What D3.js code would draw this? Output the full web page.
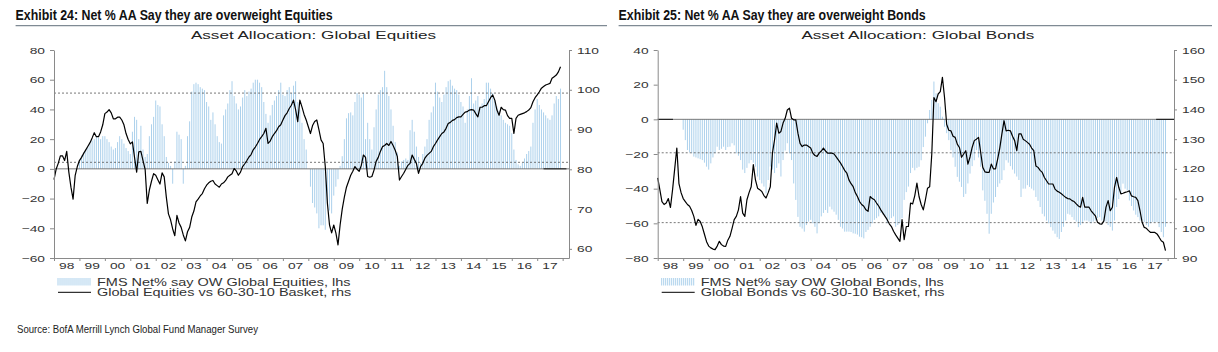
<!DOCTYPE html>
<html>
<head>
<meta charset="utf-8">
<script src="https://cdn.jsdelivr.net/npm/d3@7"></script>
<style>
    body { margin: 0; background: #fff; }
    svg text { font-family: "Liberation Sans", Arial, sans-serif; }
    .title { font-family: "Liberation Sans Narrow", "Arial Narrow", "Liberation Sans", sans-serif !important; font-weight: bold; font-size: 14px; fill: #111; }
    .source { font-family: "Liberation Sans Narrow", "Arial Narrow", "Liberation Sans", sans-serif !important; font-size: 11px; fill: #222; }
</style>
</head>
<body>
<svg id="chart" width="1218" height="352"></svg>
<script>
// x axis labels, one per year
const yearLabels = ["98", "99", "00", "01", "02", "03", "04", "05", "06", "07",
    "08", "09", "10", "11", "12", "13", "14", "15", "16", "17"];
const firstYear = 1998;

// Exhibit 24: FMS net % overweight global equities (lhs), monthly from Jan 1999
const eqBarStart = 1999;
const eqBars = [
    6, 9, 11, 13, 15, 17, 19, 20, 22, 21, 20, 22,
    22, 20, 18, 15, 13, 14, 18, 22, 20, 17, 14, 12,
    10, 25, 35, 33, 20, 29, 13, 8, 10, 22, 30, 35,
    46, 43, 42, 30, 22, 8, 4, 2, -10, 5, 25, 23,
    20, -10, 2, 22, 32, 52, 57, 58, 57, 55, 54, 53,
    45, 42, 33, 38, 30, 22, 18, 17, 36, 40, 44, 53,
    59, 49, 44, 40, 42, 48, 53, 49, 52, 54, 58, 60,
    60, 58, 55, 45, 37, 31, 36, 43, 46, 49, 53, 58,
    50, 49, 53, 55, 51, 56, 59, 45, 40, 31, 20, 13,
    0, -12, -23, -26, -30, -40, -38, -38, -41, -25, -28, -30,
    -18, -12, -7, 2, 8.5, 20, 34, 37.5, 38, 36, 45, 51,
    50, 48, 51, 20, 31, 20, 13, 28, 40, 50, 53, 55,
    66, 55, 49, 40, 29, 18, 11, 2, 5, 6, 7, 6,
    26, 33, 25, 15, 8, 4, 10, 15, 20, 33, 38, 42,
    58, 52, 48, 45, 50, 55, 59, 60, 56, 54, 53, 50,
    45, 42, 31, 40, 49, 61, 44, 46, 49, 42, 44, 47,
    58, 58, 54, 51, 46, 42, 39, 36, 33, 31, 30, 29,
    24, 13, 6, 3, 2, 4, 7, 10, 12, 15, 31, 40,
    47, 43, 40, 38, 36, 34, 33, 36, 44, 49, 47, 54
];
// Global equities vs 60-30-10 basket (rhs), monthly from Jan 1998
const eqLine = [
    77.4, 80, 81.5, 83.4, 83.4, 82.2, 84.5, 79.3, 75.5, 72.5, 78.5, 80.7,
    82.2, 83, 84, 84.9, 85.8, 86.7, 87.9, 89.2, 88.2, 88.2, 89.4, 91.2,
    94, 94.4, 95, 94.2, 92.7, 92.7, 93.1, 93.1, 92.4, 91.2, 89, 87.5,
    86.4, 86.9, 83, 79.3, 84.4, 84.5, 82.2, 80, 71.4, 74.8, 77, 78.9,
    78.5, 77.4, 76.3, 79.1, 78.1, 73, 68.8, 67.3, 65, 63.3, 68.4, 66.5,
    65.4, 63.5, 62, 64.3, 65.4, 68, 69.5, 71.8, 72.5, 73.3, 73.9, 75.1,
    76, 76.6, 77, 77.2, 76.3, 75.9, 75.5, 76.3, 76.6, 77.2, 78.1, 78.5,
    78.9, 80.2, 79.6, 78.5, 79.3, 80.7, 81.4, 82.2, 83.1, 83.7, 84.9, 85.6,
    86.5, 87.5, 88.2, 89, 90.3, 86.5, 87.1, 88.2, 89, 89.7, 90.7, 91.2,
    92.4, 93.5, 94.2, 95.3, 96.1, 97.4, 95, 92, 97.4, 95.7, 93.8, 92.4,
    90.7, 89, 91, 92, 92.4, 90, 87.4, 86.5, 80.7, 71.5, 66, 64,
    66, 64, 61, 66, 70, 73, 75.5, 77, 78.5, 79.5, 80.7, 80,
    79.5, 81, 83.6, 83, 78.2, 78, 78.2, 79.8, 82, 83, 84.5, 85.7,
    86, 86.5, 86, 87, 86, 84.8, 83.2, 77.3, 78.2, 79, 80, 81,
    81.5, 83.6, 82.5, 81.5, 79, 80.7, 81.5, 82.8, 83.5, 84, 84.5, 85.7,
    86.5, 87.4, 88.2, 89, 89.4, 90.3, 91.5, 91.8, 92.3, 92.5, 93, 93.2,
    93.2, 93.8, 94.4, 94.5, 94.9, 95, 94.9, 94, 93.2, 95.6, 95.6, 96,
    96, 97, 98, 98.7, 97.4, 94.9, 93.6, 95.6, 95, 94.9, 93.5, 92.8,
    92.8, 89, 92.8, 93.6, 93.8, 94, 94.2, 94.5, 94.9, 95.5, 97, 98,
    98.7, 99.5, 100.4, 100.8, 101.2, 101.4, 101.6, 102.9, 103.3, 103.7, 104.5, 105.8
];
const eqRefLines = [51, 4.4];
const eqZeroSegs = [[2017.25, 2018.15]];

// Exhibit 25: FMS net % overweight global bonds (lhs), monthly from Jan 1999
const bdBarStart = 1999;
const bdBars = [
    -6, -12, -17.7, -19, -19.6, -21.5, -22, -22.5, -23, -23.5, -25, -27.3,
    -29, -25.4, -22, -19.6, -15.8, -17.7, -17, -15.8, -17.7, -16, -15.8, -13.8,
    -15, -19.6, -21, -23.5, -29, -31, -28, -25.4, -23.5, -25, -27.3, -33,
    -35, -37, -38.8, -42.7, -35, -27.3, -29, -31, -28, -25.4, -33, -23.5,
    -18, -13.8, -19.6, -23.5, -37, -46.5, -56.3, -62, -63, -64.8, -61, -59,
    -58, -60, -62, -65.8, -60, -56, -54, -52.3, -54, -50.4, -52, -53.3,
    -55, -58, -62, -63, -64.8, -64.8, -64.8, -65, -65.8, -66, -66.5, -67.7,
    -68, -68.7, -65, -63.8, -62, -60, -58, -57, -56, -54, -55, -56,
    -60, -58, -57, -56, -62, -61, -60, -57, -46.5, -42, -38.8, -31,
    -28, -29.4, -28, -27.4, -23.6, -16, -10, -2.3, 5.4, 11.2, 21.8, 15,
    9.3, 7.3, 1.5, -4.3, -8, -12, -17.8, -22, -27.4, -33.2, -36, -39,
    -44.8, -43, -37, -31.3, -27, -23.6, -17.8, -22, -27.4, -41, -47, -54.5,
    -66, -54.5, -48, -44.8, -39, -37, -35, -29.4, -23.6, -25, -27, -29,
    -31.3, -33, -35, -44.8, -40, -40, -38, -39, -40, -41, -44.8, -47,
    -50.6, -54.5, -56, -58.4, -60, -62.2, -64.2, -66, -68, -69, -65, -62,
    -58.4, -54.5, -55, -56.4, -58, -59, -62.2, -61, -60, -58.4, -58.4, -59,
    -60, -59, -58.4, -57, -56.4, -58.4, -59, -59, -61, -62, -64.2, -58.4,
    -50.6, -46, -43, -37.1, -40, -41, -46.8, -50, -52.6, -55, -56.4, -58.4,
    -58.4, -59.3, -61, -62, -60, -59.3, -59.3, -59.3, -62.2, -65, -68, -62
];
// Global bonds vs 60-30-10 basket (rhs), monthly from Jan 1998
const bdLine = [
    117, 113, 109, 108, 108.5, 110, 107, 113, 120, 127, 115, 112,
    110, 109, 108, 107.4, 106, 104, 101, 103, 102.3, 100.5, 98, 95.5,
    94, 93.4, 93, 92.8, 94, 95.6, 94.5, 94, 93.9, 96, 97.3, 100,
    102.9, 104, 106.2, 110.7, 105.1, 104, 109.6, 112, 114, 121.4, 116.3, 113.5,
    113, 112.4, 111, 110.2, 112, 114, 125.3, 129.8, 135.4, 132, 132.6, 135.4,
    137, 139.8, 140.4, 137, 136.5, 136.5, 132, 128.6, 127.5, 128, 128, 127.5,
    127, 125.3, 124.5, 124.2, 125.3, 126, 127, 126, 125.3, 125.3, 125.3, 125,
    124, 123, 122, 120.8, 119.5, 118.6, 116.3, 115, 114, 112, 110.7, 109,
    108, 107.4, 106.2, 105.7, 110.7, 110, 109.6, 108.5, 107.5, 106.2, 105.1, 104,
    102.9, 101.5, 100.6, 99, 97.8, 96.7, 95.6, 102.9, 96.2, 100.6, 100.6, 108.5,
    108.2, 111, 115.2, 110.7, 108, 106.2, 109.6, 113.5, 114, 125, 144, 142.6,
    145.2, 146, 150.8, 144, 135, 133, 132.8, 131, 130.6, 128.3, 127.2, 123.9,
    125, 126.1, 121.6, 124, 127.2, 129.5, 130, 130.6, 125.6, 120.5, 119, 118.8,
    118.8, 121.6, 120, 120, 123.3, 127, 131.8, 136.2, 132.8, 133, 132.8, 131,
    129.5, 126.1, 131.8, 131.8, 130, 129.5, 128.9, 128.3, 127, 126.1, 121, 120.5,
    119.5, 118.8, 117.1, 116, 114.9, 114.9, 114.9, 113.2, 112.5, 112.1, 111.6, 111,
    110.4, 110, 109.9, 109.3, 109, 108.2, 107.5, 107.1, 110.4, 107.1, 107.1, 107.1,
    105.9, 105, 104.2, 102, 101.5, 101.4, 102.5, 107.1, 109.3, 105.9, 107.1, 113.8,
    117.1, 113.8, 111.6, 111.8, 112.1, 112.3, 112.6, 110.9, 110.6, 110.4, 109.3, 105.9,
    102, 100.3, 100, 99.2, 98.6, 98.6, 98.6, 98.1, 97, 95.8, 95.3, 92.5
];
const bdRefLines = [-19.3, -59.6];
const bdZeroSegs = [[1998, 1998.6], [2017.55, 2018.25]];

const eqLhsTicks = [-60, -40, -20, 0, 20, 40, 60, 80];
const eqRhsTicks = [60, 70, 80, 90, 100, 110];
const bdLhsTicks = [-80, -60, -40, -20, 0, 20, 40];
const bdRhsTicks = [90, 100, 110, 120, 130, 140, 150, 160];

const BAR_COLOR = "#acd1ec";
const AXIS_COLOR = "#8a8a8a";
const TEXT_COLOR = "#333";
const STRETCH = "scale(1.45,1)";   // the chart text in the picture is stretched sideways
const plotTop = 50, plotBottom = 258;
const xDomain = [1998, 2018.25];

const svg = d3.select("#chart");

function drawPanel(p)
{
    const g = svg.append("g");

    const x = d3.scaleLinear().domain(xDomain).range([p.left, p.right]);
    const yL = d3.scaleLinear().domain(p.lhsDomain).range([plotBottom, plotTop]);
    const yR = d3.scaleLinear().domain(p.rhsDomain).range([plotBottom, plotTop]);

    // exhibit title and grey rule under it
    g.append("text")
        .attr("class", "title")
        .attr("x", p.titleX)
        .attr("y", 20)
        .attr("textLength", p.titleLen)
        .attr("lengthAdjust", "spacingAndGlyphs")
        .text(p.title);
    g.append("line")
        .attr("x1", p.titleX).attr("x2", p.ruleEnd)
        .attr("y1", 25.7).attr("y2", 25.7)
        .attr("stroke", "#7f8a94")
        .attr("stroke-width", 1.2);

    // chart heading
    g.append("text")
        .attr("transform", `translate(${(p.left + p.right) / 2 + 2},38.5) ${STRETCH}`)
        .attr("text-anchor", "middle")
        .style("font-size", "11.8px")
        .attr("fill", "#222")
        .text(p.subtitle);

    // survey bars, one thin line per month
    g.append("g")
        .selectAll("line")
        .data(p.bars)
        .join("line")
        .attr("x1", (d, i) => x(p.barStart + i / 12))
        .attr("x2", (d, i) => x(p.barStart + i / 12))
        .attr("y1", yL(0))
        .attr("y2", d => yL(d))
        .attr("stroke", BAR_COLOR)
        .attr("stroke-width", 1);

    // zero line + dashed reference lines
    g.append("line")
        .attr("x1", p.left).attr("x2", p.right)
        .attr("y1", yL(0)).attr("y2", yL(0))
        .attr("stroke", "#6a6a6a").attr("stroke-width", 0.9);
    g.selectAll(".zseg")
        .data(p.zeroSegs)
        .join("line")
        .attr("x1", d => x(d[0])).attr("x2", d => x(d[1]))
        .attr("y1", yL(0)).attr("y2", yL(0))
        .attr("stroke", "#111").attr("stroke-width", 1);
    g.selectAll(".ref")
        .data(p.refLines)
        .join("line")
        .attr("x1", p.left).attr("x2", p.right)
        .attr("y1", d => yL(d)).attr("y2", d => yL(d))
        .attr("stroke", "#555")
        .attr("stroke-width", 0.8)
        .attr("stroke-dasharray", "2,2");

    // relative performance line
    g.append("path")
        .datum(p.line)
        .attr("d", d3.line()
            .x((d, i) => x(firstYear + i / 12))
            .y(d => yR(d)))
        .attr("fill", "none")
        .attr("stroke", "#000")
        .attr("stroke-width", 1.2)
        .attr("stroke-linejoin", "round");

    // axes
    function styleAxis(a) {
        a.attr("font-family", null).attr("font-size", null);
        a.select(".domain").attr("stroke", AXIS_COLOR);
        a.selectAll(".tick line").attr("stroke", AXIS_COLOR);
        a.selectAll("text").attr("fill", TEXT_COLOR).style("font-size", "9.5px");
    }

    g.append("g")
        .attr("transform", `translate(${p.left},0)`)
        .call(d3.axisLeft(yL).tickValues(p.lhsTicks).tickSize(4).tickSizeOuter(0))
        .call(styleAxis)
        .call(a => a.selectAll("text").attr("x", 0).attr("transform", `translate(-9,0) ${STRETCH}`));

    g.append("g")
        .attr("transform", `translate(${p.right},0)`)
        .call(d3.axisRight(yR).tickValues(p.rhsTicks).tickSize(3).tickSizeOuter(0))
        .call(styleAxis)
        .call(a => a.selectAll("text").attr("x", 0).attr("transform", `translate(8,0) ${STRETCH}`));

    g.append("g")
        .attr("transform", `translate(0,${plotBottom})`)
        .call(d3.axisBottom(x)
            .tickValues(d3.range(firstYear, firstYear + yearLabels.length + 1))
            .tickSize(3).tickSizeOuter(0).tickFormat(""))
        .call(styleAxis);

    g.selectAll(".yr")
        .data(yearLabels)
        .join("text")
        .attr("transform", (d, i) => `translate(${x(firstYear + i + 0.5)},269) ${STRETCH}`)
        .attr("text-anchor", "middle")
        .attr("fill", TEXT_COLOR)
        .style("font-size", "9.5px")
        .text(d => d);

    // legend
    const lx = p.left + 4;
    g.append("g")
        .selectAll("line")
        .data(d3.range(0, 33, 2))
        .join("line")
        .attr("x1", d => lx + d).attr("x2", d => lx + d)
        .attr("y1", 278).attr("y2", 285.5)
        .attr("stroke", BAR_COLOR);
    g.append("text")
        .attr("transform", `translate(${p.left + 43},285.5) ${STRETCH}`)
        .attr("fill", TEXT_COLOR)
        .style("font-size", "10px")
        .text(p.legend[0]);
    g.append("line")
        .attr("x1", lx).attr("x2", lx + 33)
        .attr("y1", 292.3).attr("y2", 292.3)
        .attr("stroke", "#000");
    g.append("text")
        .attr("transform", `translate(${p.left + 43},295.5) ${STRETCH}`)
        .attr("fill", TEXT_COLOR)
        .style("font-size", "10px")
        .text(p.legend[1]);
}

drawPanel({
    left: 54, right: 569,
    titleX: 15.6, titleLen: 317, ruleEnd: 607,
    title: "Exhibit 24: Net % AA Say they are overweight Equities",
    subtitle: "Asset Allocation: Global Equities",
    lhsDomain: [-60, 80], rhsDomain: [57.7, 110],
    lhsTicks: eqLhsTicks, rhsTicks: eqRhsTicks,
    bars: eqBars, barStart: eqBarStart, line: eqLine,
    refLines: eqRefLines, zeroSegs: eqZeroSegs,
    legend: ["FMS Net% say OW Global Equities, lhs", "Global Equities vs 60-30-10 Basket, rhs"]
});

drawPanel({
    left: 657.7, right: 1174,
    titleX: 618.6, titleLen: 307, ruleEnd: 1212,
    title: "Exhibit 25: Net % AA Say they are overweight Bonds",
    subtitle: "Asset Allocation: Global Bonds",
    lhsDomain: [-80, 40], rhsDomain: [90, 160],
    lhsTicks: bdLhsTicks, rhsTicks: bdRhsTicks,
    bars: bdBars, barStart: bdBarStart, line: bdLine,
    refLines: bdRefLines, zeroSegs: bdZeroSegs,
    legend: ["FMS Net% say OW Global Bonds, lhs", "Global Bonds vs 60-30-10 Basket, rhs"]
});

// source note
svg.append("text")
    .attr("class", "source")
    .attr("x", 17)
    .attr("y", 332.5)
    .attr("textLength", 241)
    .attr("lengthAdjust", "spacingAndGlyphs")
    .text("Source: BofA Merrill Lynch Global Fund Manager Survey");
</script>
</body>
</html>
